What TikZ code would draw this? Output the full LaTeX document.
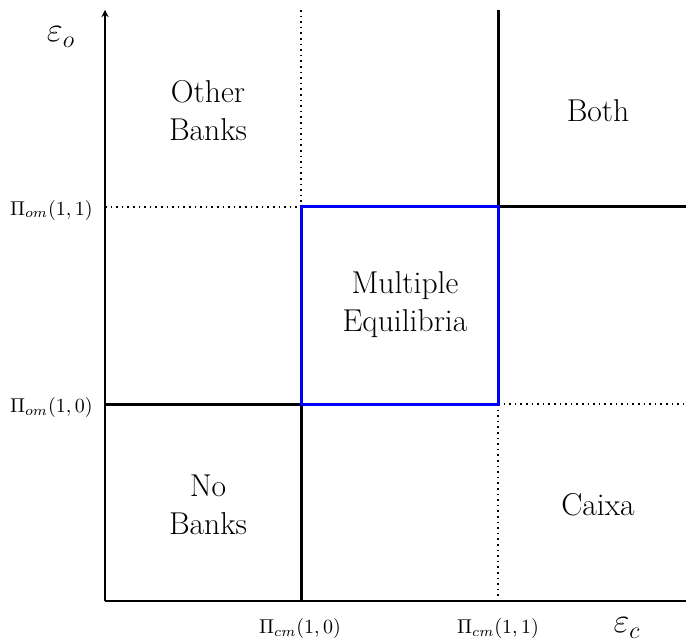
\documentclass[tikz,border=0pt]{standalone}
\usepackage{amsmath}
\begin{document}
\begin{tikzpicture}[x=0.5pt,y=-0.5pt,
  axisline/.style={line width=0.6pt,->,>=stealth},
  boundary/.style={line width=1.5pt,black},
  dottedline/.style={line width=0.8pt,dotted},
  eqbox/.style={line width=1.5pt,blue},
  region/.style={font=\fontsize{15.8}{19}\selectfont,align=center,inner sep=0pt},
  axlabel/.style={font=\fontsize{16.5}{19}\selectfont},
  ticklabel/.style={font=\normalsize,inner sep=0pt}]
\useasboundingbox (0,0) rectangle (686,642);
% key coordinates
\coordinate (O) at (105,601);
\coordinate (Ytop) at (105,10);
\coordinate (Xend) at (700,601);
\coordinate (A) at (301,404);   % (Pi_cm(1,0), Pi_om(1,0))
\coordinate (B) at (498,207);   % (Pi_cm(1,1), Pi_om(1,1))
\coordinate (AL) at (105,404);
\coordinate (AB) at (301,601);
\coordinate (AT) at (301,10);
\coordinate (BT) at (498,10);
\coordinate (BR) at (700,207);
\coordinate (BL) at (105,207);
\coordinate (BB) at (498,601);
\coordinate (ART) at (700,404);
\coordinate (C1) at (301,207);
\coordinate (C2) at (498,404);
% axes
\draw[axisline] (O) -- (Ytop);
\draw[axisline] (O) -- (Xend);
% dotted guides
\draw[dottedline] (AT) -- (C1);
\draw[dottedline] (BL) -- (C1);
\draw[dottedline] (C2) -- (BB);
\draw[dottedline] (C2) -- (ART);
% thick boundaries
\draw[boundary] (AL) -- (A) -- (AB);
\draw[boundary] (BT) -- (B) -- (BR);
% multiple equilibria box
\draw[eqbox] (C1) rectangle (C2);
% axis labels
\node[axlabel] (eo) at (61,37) {$\varepsilon_o$};
\node[axlabel] (ec) at (627,628) {$\varepsilon_c$};
% tick labels
\node[ticklabel,anchor=east] (t11) at (93,210) {$\Pi_{om}(1,1)$};
\node[ticklabel,anchor=east] (t10) at (93,407) {$\Pi_{om}(1,0)$};
\node[ticklabel] (c10) at (300,628) {$\Pi_{cm}(1,0)$};
\node[ticklabel] (c11) at (498,628) {$\Pi_{cm}(1,1)$};
% regions
\node[region] (other) at (208,111) {Other\\Banks};
\node[region] (both) at (598,111) {Both};
\node[region] (multi) at (405,305) {Multiple\\Equilibria};
\node[region] (none) at (208,505) {No\\Banks};
\node[region] (caixa) at (598,505) {Caixa};
\end{tikzpicture}
\end{document}
